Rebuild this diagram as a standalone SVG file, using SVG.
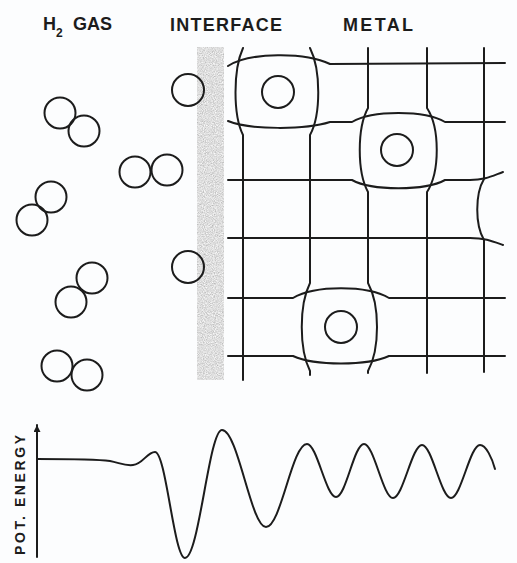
<svg xmlns="http://www.w3.org/2000/svg" width="517" height="563" viewBox="0 0 517 563">
  <defs>
    <style>
      .ln { fill: none; stroke: #1c1c1c; stroke-width: 2; stroke-linecap: round; stroke-linejoin: round; }
      .atom { fill: none; stroke: #1c1c1c; stroke-width: 2; }
      .title { font-family: "Liberation Sans", Arial, sans-serif; font-weight: bold; font-size: 18px; fill: #1c1c1c; }
      .axis-label { font-family: "Liberation Sans", Arial, sans-serif; font-weight: bold; font-size: 14px; fill: #1c1c1c; }
    </style>
    <filter id="grain" x="0" y="0" width="1" height="1">
      <feTurbulence type="fractalNoise" baseFrequency="0.9" numOctaves="2" seed="7" result="n"/>
      <feColorMatrix in="n" type="matrix" values="0.7 0 0 0 0.38  0.7 0 0 0 0.38  0.7 0 0 0 0.38  0 0 0 0 1" result="g"/>
      <feComposite in="g" in2="SourceGraphic" operator="in"/>
    </filter>
    <marker id="arrow" viewBox="0 0 10 10" refX="10" refY="5" markerWidth="15" markerHeight="7" markerUnits="userSpaceOnUse" orient="auto">
      <path d="M0,0 L10,5 L0,10 Z" fill="#1c1c1c"/>
    </marker>
  </defs>

  <rect width="517" height="563" fill="#fcfdfe"/>

  <!-- Region headings -->
  <g id="labels">
    <text class="title" x="43" y="30">H<tspan font-size="12" dy="7">2</tspan><tspan x="73" dy="-7" textLength="39" lengthAdjust="spacing">GAS</tspan></text>
    <text class="title" x="170" y="31" textLength="112" lengthAdjust="spacing">INTERFACE</text>
    <text class="title" x="343" y="31" textLength="70" lengthAdjust="spacing">METAL</text>
  </g>

  <!-- Free H2 molecules in the gas phase -->
  <g id="gas">
    <g id="h2-1"><circle class="atom" cx="60" cy="113" r="15.5"/><circle class="atom" cx="84" cy="131" r="15.5"/></g>
    <g id="h2-2"><circle class="atom" cx="135" cy="172" r="15.5"/><circle class="atom" cx="167" cy="170" r="15.5"/></g>
    <g id="h2-3"><circle class="atom" cx="51" cy="197" r="15.5"/><circle class="atom" cx="32" cy="220" r="15.5"/></g>
    <g id="h2-4"><circle class="atom" cx="92" cy="278" r="15.5"/><circle class="atom" cx="71" cy="302" r="15.5"/></g>
    <g id="h2-5"><circle class="atom" cx="57" cy="366" r="15.5"/><circle class="atom" cx="87" cy="375" r="15.5"/></g>
  </g>

  <!-- Adsorbed H atoms and the interface layer -->
  <g id="interface">
    <rect x="197" y="47" width="27" height="333" fill="#bdbdbd" filter="url(#grain)"/>
    <circle id="adsorbed-1" class="atom" cx="188" cy="90" r="16"/>
    <circle id="adsorbed-2" class="atom" cx="188" cy="267" r="16"/>
  </g>

  <!-- Metal lattice, distorted around dissolved H atoms -->
  <g id="lattice" class="ln">
    <!-- vertical lines -->
    <path d="M243,48 C 233,70 233,115 243,135 L243,380"/>
    <path d="M310,48 C 321,70 321,115 310,135 L310,283 C 299,305 299,349 310,371 L310,375"/>
    <path d="M368,48 L368,108 C 357,128 357,172 368,192 L368,283 C 380,305 380,349 368,371 L368,373"/>
    <path d="M427,48 L427,108 C 440,128 440,172 427,192 L427,373"/>
    <path d="M484,48 L484,179 C 475,194 475,225 484,240 L484,372"/>
    <!-- horizontal lines -->
    <path d="M228,66 C 250,52 305,52 330,64 L505,63"/>
    <path d="M228,121 C 250,130 305,130 330,122 L352,122 C 372,110 425,110 445,122 L505,122"/>
    <path d="M228,180 L352,180 C 372,191 425,191 445,180 L470,180 C 485,180 492,176 503,172"/>
    <path d="M228,238 L470,238 C 485,238 492,241 503,245"/>
    <path d="M228,298 L293,298 C 315,285 367,285 389,298 L505,298"/>
    <path d="M228,356 L293,356 C 315,366 367,366 389,356 L505,356"/>
  </g>

  <!-- Dissolved H atoms -->
  <g id="dissolved">
    <circle id="h-metal-1" class="atom" cx="278" cy="92" r="16"/>
    <circle id="h-metal-2" class="atom" cx="397" cy="150" r="16"/>
    <circle id="h-metal-3" class="atom" cx="341" cy="327" r="16"/>
  </g>

  <!-- Potential energy profile -->
  <g id="energy-plot">
    <line class="ln" x1="37" y1="557" x2="37" y2="425" marker-end="url(#arrow)"/>
    <text class="axis-label" transform="translate(25,495) rotate(-90)" text-anchor="middle" textLength="120" lengthAdjust="spacing">POT. ENERGY</text>
    <path class="ln" d="M37,459 C 70,459 95,459 110,461 C 120,463 125,466 133,465 C 143,464 147,452 155,452 C 166,452 174,558 185,558 C 199,558 209,430 222,430 C 238,430 251,527 266,527 C 281,527 292,444 307,444 C 317,444 326,497 336,497 C 346,497 354,444 364,444 C 374,444 383,498 393,498 C 403,498 412,445 422,445 C 432,445 441,498 451,498 C 461,498 470,445 480,445 C 486,445 492,458 495,469"/>
  </g>
</svg>
